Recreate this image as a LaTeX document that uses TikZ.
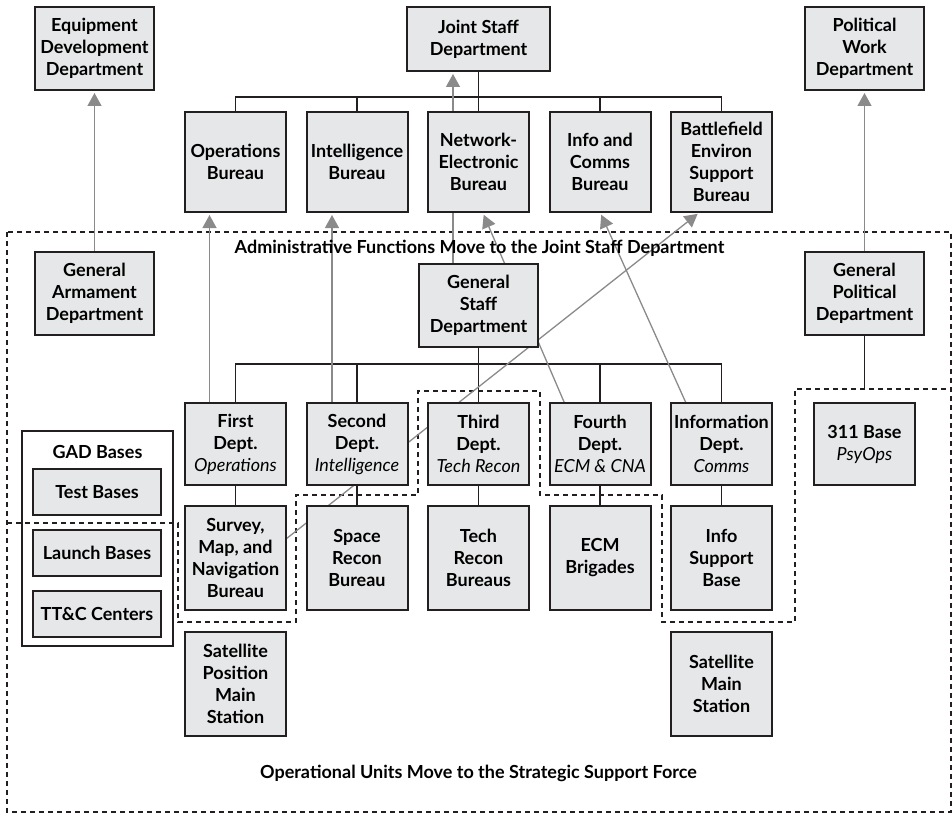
\documentclass[tikz,border=0pt]{standalone}
\usepackage{fontspec}
\setmainfont{Lato}
\usepackage{tikz}
\usetikzlibrary{arrows.meta}
\usetikzlibrary{backgrounds}
\usetikzlibrary{calc}
\usetikzlibrary{positioning}

\definecolor{boxgray}{RGB}{230, 231, 232}
\definecolor{inkblack}{RGB}{35, 31, 32}
\definecolor{arrowgray}{RGB}{138, 138, 138}

\newcommand{\role}[1]{\\{\mdseries\itshape #1}}

\begin{document}
\begin{tikzpicture}[
      x=0.5pt, y=-0.5pt,
      font=\fontsize{9}{11}\selectfont\bfseries,
      unit/.style={rectangle, draw=inkblack, line width=1pt, fill=boxgray,
                   align=center, inner sep=0pt, outer sep=0pt,
                   minimum width=50.5pt},
      bureau/.style={unit, minimum height=50pt},
      dept/.style={unit, minimum height=41pt},
      sub/.style={unit, minimum height=52pt},
      hq/.style={unit, minimum width=59.5pt, minimum height=41.5pt},
      gadbase/.style={unit, minimum width=64pt, minimum height=23pt},
      link/.style={draw=inkblack, line width=0.65pt},
      moveto/.style={draw=arrowgray, line width=0.65pt,
                     -{Triangle[width=7pt,length=6.5pt]}, shorten >=1.5pt},
      border/.style={draw=inkblack, line width=0.65pt,
                     dash pattern=on 2.5pt off 2pt},
      node distance=10.25pt
    ]
      \useasboundingbox (0,0) rectangle (952,813);

      % old and new headquarters
      \node [hq] (eqdev) at (94.5,48.5) {Equipment\\Development\\Department};
      \node [hq, minimum width=71.5pt, minimum height=32pt] (joint) at (478.5,39)
            {Joint Staff\\Department};
      \node [hq] (polwork) at (864.5,48.5) {Political\\Work\\Department};

      \node [bureau] (opsbur) at (235.5,162) {Operations\\Bureau};
      \node [bureau, right=of opsbur] (intbur) {Intelligence\\Bureau};
      \node [bureau, right=of intbur] (netbur) {Network-\\Electronic\\Bureau};
      \node [bureau, right=of netbur] (icbur) {Info and\\Comms\\Bureau};
      \node [bureau, right=of icbur] (bfbur)
            {Battlefield\\Environ\\Support\\Bureau};

      \node [hq] (gad) at (94.5,293) {General\\Armament\\Department};
      \node [hq] (gsd) at (478.5,305.5) {General\\Staff\\Department};
      \node [hq] (gpd) at (864.5,293) {General\\Political\\Department};

      % GSD departments
      \node [dept] (dept1) at (235.5,444) {First\\Dept.\role{Operations}};
      \node [dept, right=of dept1] (dept2) {Second\\Dept.\role{Intelligence}};
      \node [dept, right=of dept2] (dept3) {Third\\Dept.\role{Tech Recon}};
      \node [dept, right=of dept3] (dept4) {Fourth\\Dept.\role{ECM \& CNA}};
      \node [dept, right=of dept4] (deptinfo) {Information\\Dept.\role{Comms}};
      \node [dept] (base311) at (864.5,444) {311 Base\role{PsyOps}};

      \node [sub, below=10.5pt of dept1] (survey)
            {Survey,\\Map, and\\Navigation\\Bureau};
      \node [sub, below=10.5pt of dept2] (spacerecon) {Space\\Recon\\Bureau};
      \node [sub, below=10.5pt of dept3] (techrecon) {Tech\\Recon\\Bureaus};
      \node [sub, below=10.5pt of dept4] (ecm) {ECM\\Brigades};
      \node [sub, below=10.5pt of deptinfo] (infosup) {Info\\Support\\Base};

      \node [sub, below=11pt of survey] (satpos)
            {Satellite\\Position\\Main\\Station};
      \node [sub, below=11pt of infosup] (satmain) {Satellite\\Main\\Station};

      % GAD bases
      \node [draw=inkblack, line width=1pt, inner sep=0pt,
             minimum width=75.5pt, minimum height=107.5pt] (gadbases)
            at (97.5,538.5) {};
      \node (gadtitle) at (97.5,452) {GAD Bases};
      \node [gadbase] (testbases) at (97,492) {Test Bases};
      \node [gadbase, below=7.5pt of testbases] (launchbases) {Launch Bases};
      \node [gadbase, below=7.5pt of launchbases] (ttc) {TT\&C Centers};

      \node (admintext) at (479.5,248)
            {Administrative Functions Move to the Joint Staff Department};
      \node (opstext) at (478.5,773)
            {Operational Units Move to the Strategic Support Force};

      \begin{scope}[on background layer]
        % regions
        \draw [border] (7,232) rectangle (951,812);
        \draw [border] (7,523) -- (178,523) -- (178,622) -- (296,622)
              -- (296,495) -- (418,495) -- (418,391) -- (540,391)
              -- (540,495) -- (662,495) -- (662,622) -- (795,622)
              -- (795,389) coordinate (rstep) -- (951,389);

        % chains of command
        \foreach \b in {opsbur,intbur,netbur,icbur,bfbur}
          \draw [link] (joint.south) -- ++(0,26) -| (\b.north);
        \foreach \d in {dept1,dept2,dept3,dept4,deptinfo}
          \draw [link] (gsd.south) -- ++(0,17) -| (\d.north);
        \draw [link] (dept1) -- (survey)
                     (dept2) -- (spacerecon)
                     (dept3) -- (techrecon)
                     (dept4) -- (ecm)
                     (deptinfo) -- (infosup);
        \draw [link] (gpd.south) -- (gpd.south |- rstep);

        % where functions move
        \draw [moveto] (gad.north) -- (eqdev.south);
        \draw [moveto] (gpd.north) -- (polwork.south);
        \draw [moveto] ([xshift=-13pt]dept1.north) -- ([xshift=-13pt]opsbur.south);
        \draw [moveto] ([xshift=-12.5pt]dept2.north) -- ([xshift=-12.5pt]intbur.south);
        \draw [moveto] ([xshift=-12.75pt]gsd.north) -- ([xshift=-12.75pt]joint.south);
        \draw [moveto] ([xshift=-17.75pt]dept4.north) -- ([xshift=2pt]netbur.south);
        \draw [moveto] ([xshift=-17.75pt]deptinfo.north) -- (icbur.south);
        \draw [moveto] ([yshift=9.5pt]survey.east) -- ([xshift=-10.75pt]bfbur.south);
      \end{scope}
    \end{tikzpicture}
\end{document}
